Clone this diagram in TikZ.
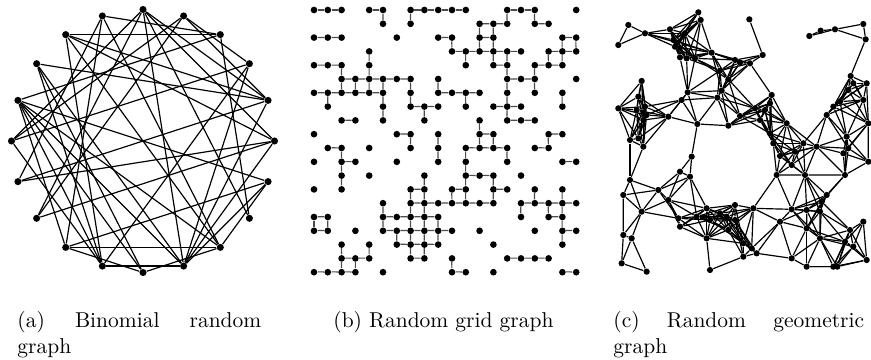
\documentclass[tikz,border=0pt]{standalone}
\begin{document}
\begin{tikzpicture}[x=0.01635cm, y=-0.01635cm,
    vdot/.style={circle, fill=black, inner sep=0pt, minimum size=3.3pt},
    gdot/.style={circle, fill=black, inner sep=0pt, minimum size=3.1pt},
    rdot/.style={circle, fill=black, inner sep=0pt, minimum size=2.9pt},
    link/.style={line width=0.55pt},
    gridlink/.style={line width=0.55pt, black!70},
    caption/.style={inner sep=0pt, anchor=north west, align=left},
  ]
  \useasboundingbox (0,0) rectangle (871,360);

  % ---- (a) binomial random graph: 20 vertices on a circle ----------------
  \foreach \k in {0,...,19}
    \node[vdot] (bin\k) at ({143+131.5*cos(90+18*\k)},{141-131.5*sin(90+18*\k)}) {};
  \foreach \u/\v in {2/18, 8/12, 9/11, 1/18, 3/16, 4/18, 6/16, 7/15, 8/14, 5/17,
                     2/16, 2/15, 0/13, 13/18, 0/5, 0/7, 0/11, 0/15, 0/16, 10/12,
                     1/6, 1/8, 1/12, 19/17, 19/16, 19/5, 19/7, 17/9, 17/11, 16/11,
                     15/11, 14/12, 14/11, 12/4, 12/2, 11/3, 11/4, 10/8, 10/3, 9/2,
                     9/4, 4/8, 5/9, 4/10, 3/9, 14/4, 15/6}
    \draw[link] (bin\u) -- (bin\v);

  % ---- (b) random grid graph: 20 x 20 lattice ----------------------------
  \begin{scope}[shift={(314,10)}, scale=13.8]
    \foreach \r/\cols in {
        0/{0,1,2,4,5,7,8,9,10,11,14,15,16,19},
        1/{5,7,12,13,14,16,17},
        2/{0,1,2,6,9,10,12,13,18,19},
        3/{4,10,11,12,13,14,15,17,18,19},
        4/{0,1,2,4,11,13,14,16,17,18},
        5/{2,3,4,5,6,7,9,14,15,16,19},
        6/{0,1,2,3,4,5,7,9,10,11,12,14,16,18},
        7/{1,5,7,8,9,11,13,14,15,18},
        8/{2,3,5,8,12,14,15,16},
        9/{0,6,7,9,12,13,17,18},
        10/{1,2,4,7,9,11,12,13,14,16,17},
        11/{0,2,3,6,9,11,14,18,19},
        12/{2,4,8,11,12,13,15},
        13/{0,2,7,8,10,11,13,14,16,18},
        14/{5,7,8,9,10,11,12,13,15,16,17,18,19},
        15/{0,1,5,6,7,8,9,15,17,18},
        16/{0,1,3,5,6,7,8,9,10,12,16,18,19},
        17/{2,4,6,7,8,9,13,18},
        18/{2,3,4,7,8,10,14,15,16,17},
        19/{0,1,2,3,5,10,11,13,18,19}}
      {\foreach \c in \cols {\node[gdot] (g\c-\r) at (\c,\r) {};}}
    % horizontal links, row/column of the left end
    \foreach \r/\c [evaluate=\c as \cn using int(\c+1)] in {
        0/0,0/1,0/4,0/7,0/8,0/9,0/10,0/14,0/15, 1/12,1/13,1/16,
        2/0,2/1,2/9,2/12,2/18, 3/10,3/11,3/12,3/13,3/14,3/17,3/18,
        4/0,4/1,4/13,4/16,4/17, 5/2,5/3,5/4,5/5,5/6,5/14,5/15,
        6/0,6/1,6/2,6/3,6/4,6/9,6/10,6/11, 7/7,7/8,7/13,7/14,
        8/2,8/14,8/15, 9/6,9/12,9/17, 10/1,10/11,10/12,10/13,10/16,
        11/2,11/18, 12/11,12/12, 13/7,13/10,13/13,
        14/7,14/8,14/9,14/10,14/11,14/12,14/15,14/16,14/17,14/18,
        15/0,15/5,15/6,15/7,15/8,15/17, 16/0,16/5,16/6,16/7,16/8,16/9,16/18,
        17/6,17/7,17/8, 18/2,18/3,18/7,18/14,18/15,18/16,
        19/0,19/1,19/2,19/10,19/18}
      \draw[gridlink] (g\c-\r) -- (g\cn-\r);
    % vertical links, row/column of the upper end
    \foreach \r/\c [evaluate=\r as \rn using int(\r+1)] in {
        0/5,0/7,0/14,0/16, 1/12,1/13, 2/10,2/12,2/13,2/18,2/19,
        3/4,3/11,3/13,3/14,3/17,3/18, 4/2,4/4,4/14,4/16,
        5/2,5/3,5/4,5/5,5/7,5/9,5/14,5/16, 6/1,6/5,6/7,6/11,6/14,6/18,
        7/5,7/8,7/14, 8/12, 9/7,9/9,9/12,9/13,9/17, 10/2,10/9,10/11,10/14,
        11/2,11/11, 12/2,12/8,12/11,12/13,
        13/7,13/8,13/10,13/11,13/13,13/16,13/18,
        14/5,14/7,14/8,14/15,14/17,14/18, 15/0,15/1,15/5,15/7,15/8,15/9,15/18,
        16/6,16/7,16/8,16/9,16/18, 17/2,17/4,17/7,17/8, 18/2,18/3,18/10}
      \draw[gridlink] (g\c-\r) -- (g\c-\rn);
  \end{scope}

  % ---- (c) random geometric graph: link every pair closer than the radius
  \def\geolist{85/75, 55/135, 135/100, 210/88, 295/37, 302/60, 220/120, 225/140,
    255/100, 232/128, 240/172, 260/175, 285/175, 335/158, 360/212, 385/238, 405/180,
    420/188, 450/190, 488/165, 448/58, 628/108, 662/92, 705/88, 790/72, 797/118,
    752/228, 125/243, 115/290, 55/325, 135/320, 140/345, 130/360, 110/330, 205/350,
    90/420, 115/415, 130/440, 263/277, 245/300, 292/372, 352/293, 365/272, 385/377,
    515/285, 510/310, 495/330, 465/325, 480/360, 420/348, 760/250, 800/250, 745/270,
    720/305, 790/300, 700/320, 680/345, 805/370, 740/410, 745/445, 730/460, 805/485,
    735/525, 650/440, 610/430, 560/370, 510/400, 540/468, 575/495, 530/525, 615/525,
    520/430, 585/455, 275/470, 240/515, 270/530, 90/540, 70/585, 125/635, 175/570,
    205/600, 235/655, 240/680, 290/650, 320/625, 320/715, 330/660, 360/640, 380/650,
    405/615, 385/690, 405/660, 430/730, 455/745, 470/760, 430/770, 460/625, 540/665,
    575/628, 620/630, 665/605, 680/585, 660/635, 620/685, 575/775, 620/800, 660/715,
    700/800, 750/690, 735/725, 760/740, 790/665, 800/780, 712/800, 70/705, 95/715,
    65/790, 140/815, 330/810}
  \begin{scope}[shift={(600,0)}, scale=1/3]
    \foreach \px/\py [count=\ia] in \geolist
      \node[rdot] (geo\ia) at (\px,\py) {};
    \foreach \px/\py [count=\ia] in \geolist {
      \foreach \qx/\qy [count=\ib] in \geolist {
        \ifnum\ib>\ia
          \pgfmathtruncatemacro\isnear{((\px-\qx)/100)^2+((\py-\qy)/100)^2<1.5}
          \ifnum\isnear=1 \draw[link] (geo\ia) -- (geo\ib); \fi
        \fi
      }
    }
  \end{scope}

  % ---- captions ------------------------------------------------------------
  \node[caption] (capa) at (17,311) {\hbox to 113.5pt{(a)\hfill Binomial\hfill random}\\graph};
  \node[caption] (capb) at (333,311) {(b) Random grid graph};
  \node[caption] (capc) at (613,311) {\hbox to 116.7pt{(c)\hfill Random\hfill geometric}\\graph};
\end{tikzpicture}
\end{document}
